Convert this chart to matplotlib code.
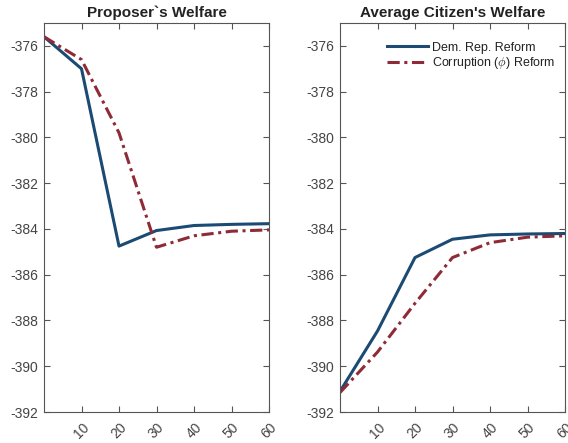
import matplotlib
matplotlib.use("Agg")
import matplotlib.pyplot as plt

plt.rcParams['font.family'] = ['Liberation Sans', 'DejaVu Sans']
plt.rcParams['mathtext.fontset'] = 'cm'

x = [0, 10, 20, 30, 40, 50, 60]
prop_dem = [-375.6, -377.0, -384.75, -384.07, -383.85, -383.8, -383.77]
prop_cor = [-375.6, -376.6, -379.8, -384.8, -384.3, -384.1, -384.04]
cit_dem = [-391.1, -388.46, -385.25, -384.45, -384.26, -384.22, -384.2]
cit_cor = [-391.15, -389.38, -387.25, -385.25, -384.6, -384.36, -384.3]
xticks = [10, 20, 30, 40, 50, 60]
yticks = [-392, -390, -388, -386, -384, -382, -380, -378, -376]
titles = ["Proposer`s Welfare", "Average Citizen's Welfare"]
labels = ["Dem. Rep. Reform", r"Corruption ($\phi$) Reform"]

blue = '#1b4a72'
red = '#8e2b36'

W, H = 568, 443
fig = plt.figure(figsize=(W / 100, H / 100), dpi=100)
ax1 = fig.add_axes([44 / W, 31 / H, 225 / W, 389 / H])
ax2 = fig.add_axes([340 / W, 31 / H, 225 / W, 389 / H])

for ax, d, c, t in [(ax1, prop_dem, prop_cor, titles[0]), (ax2, cit_dem, cit_cor, titles[1])]:
    ax.plot(x, d, color=blue, lw=2.2, label=labels[0])
    ax.plot(x, c, color=red, lw=2.2, ls=(0, (4, 1.5, 1, 1.5)), label=labels[1])
    ax.set_xlim(0, 60)
    ax.set_ylim(-392, -375)
    ax.set_xticks(xticks)
    ax.set_xticklabels([str(v) for v in xticks], rotation=45)
    ax.set_yticks(yticks)
    ax.set_yticklabels([str(v) for v in yticks])
    ax.tick_params(direction='in', length=4, width=0.8, color='#555555',
                   labelcolor='#444444', labelsize=10, top=True, right=True, pad=4)
    ax.tick_params(axis='x', pad=6)
    for sp in ax.spines.values():
        sp.set_color('#555555')
        sp.set_linewidth(0.8)
    ax.set_title(t, fontsize=11, fontweight='bold', pad=4, color='#222222')

leg = ax2.legend(loc='upper right', frameon=False, fontsize=9, handlelength=3.3,
                 handletextpad=0.3, labelspacing=0.15, borderaxespad=0.0,
                 bbox_to_anchor=(0.978, 0.965))
for tx in leg.get_texts():
    tx.set_color('#222222')

fig.savefig('out.png', dpi=100)
